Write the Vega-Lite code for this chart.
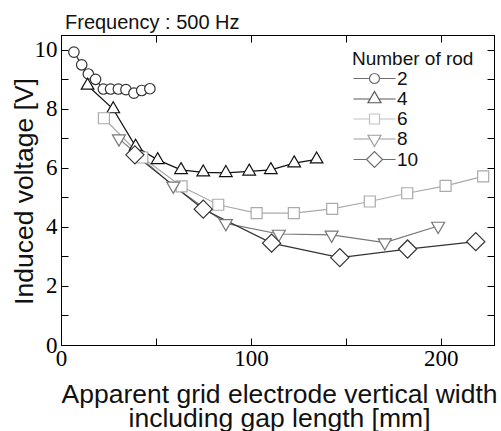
{
  "$schema": "https://vega.github.io/schema/vega-lite/v6.json",
  "width": 433,
  "height": 310,
  "autosize": {"type": "none"},
  "padding": {"left": 61, "top": 35, "right": 7, "bottom": 86},
  "background": "white",
  "title": {"text": "Frequency : 500 Hz", "anchor": "start", "frame": "group", "font": "Liberation Sans", "fontSize": 20, "fontWeight": "normal", "color": "#111", "baseline": "alphabetic", "offset": 8, "dx": 4, "dy": 22},
  "config": {
    "view": {"stroke": "black", "strokeWidth": 1},
    "axis": {"grid": false, "domainColor": "black", "tickColor": "black", "labelColor": "black", "labelFont": "Liberation Serif", "labelFontSize": 23, "titleFont": "Liberation Sans", "titleFontSize": 26.5, "titleFontWeight": "normal", "titleColor": "#111", "tickSize": -7, "labelFlush": false, "labelOverlap": false},
    "legend": {"titleFont": "Liberation Sans", "titleFontSize": 19, "titleFontWeight": "normal", "titleColor": "#111", "labelFont": "Liberation Sans", "labelFontSize": 19, "labelColor": "#111", "symbolSize": 100, "symbolStrokeWidth": 1.2, "padding": 0}
  },
  "data": {"values": [
    {"rods": "2", "width": 6.8, "voltage": 9.92},
    {"rods": "2", "width": 10.9, "voltage": 9.49},
    {"rods": "2", "width": 14.4, "voltage": 9.18},
    {"rods": "2", "width": 18.2, "voltage": 9.0},
    {"rods": "2", "width": 22.3, "voltage": 8.67},
    {"rods": "2", "width": 26.1, "voltage": 8.67},
    {"rods": "2", "width": 30.2, "voltage": 8.67},
    {"rods": "2", "width": 34.2, "voltage": 8.65},
    {"rods": "2", "width": 38.4, "voltage": 8.53},
    {"rods": "2", "width": 42.5, "voltage": 8.62},
    {"rods": "2", "width": 46.8, "voltage": 8.68},
    {"rods": "4", "width": 14.0, "voltage": 8.79},
    {"rods": "4", "width": 27.5, "voltage": 7.99},
    {"rods": "4", "width": 39.3, "voltage": 6.72},
    {"rods": "4", "width": 50.9, "voltage": 6.27},
    {"rods": "4", "width": 63.2, "voltage": 5.93},
    {"rods": "4", "width": 74.9, "voltage": 5.85},
    {"rods": "4", "width": 86.8, "voltage": 5.83},
    {"rods": "4", "width": 99.1, "voltage": 5.88},
    {"rods": "4", "width": 110.5, "voltage": 5.93},
    {"rods": "4", "width": 122.8, "voltage": 6.16},
    {"rods": "4", "width": 134.6, "voltage": 6.29},
    {"rods": "6", "width": 22.6, "voltage": 7.68},
    {"rods": "6", "width": 42.8, "voltage": 6.35},
    {"rods": "6", "width": 63.5, "voltage": 5.37},
    {"rods": "6", "width": 82.8, "voltage": 4.75},
    {"rods": "6", "width": 103.0, "voltage": 4.47},
    {"rods": "6", "width": 122.6, "voltage": 4.47},
    {"rods": "6", "width": 142.8, "voltage": 4.61},
    {"rods": "6", "width": 162.6, "voltage": 4.86},
    {"rods": "6", "width": 182.3, "voltage": 5.14},
    {"rods": "6", "width": 202.5, "voltage": 5.39},
    {"rods": "6", "width": 222.3, "voltage": 5.71},
    {"rods": "8", "width": 30.5, "voltage": 6.99},
    {"rods": "8", "width": 59.1, "voltage": 5.39},
    {"rods": "8", "width": 86.8, "voltage": 4.12},
    {"rods": "8", "width": 114.7, "voltage": 3.76},
    {"rods": "8", "width": 142.5, "voltage": 3.73},
    {"rods": "8", "width": 170.5, "voltage": 3.47},
    {"rods": "8", "width": 198.6, "voltage": 4.03},
    {"rods": "10", "width": 38.9, "voltage": 6.44},
    {"rods": "10", "width": 74.9, "voltage": 4.6},
    {"rods": "10", "width": 110.9, "voltage": 3.45},
    {"rods": "10", "width": 146.8, "voltage": 2.96},
    {"rods": "10", "width": 182.5, "voltage": 3.25},
    {"rods": "10", "width": 218.4, "voltage": 3.5}
  ]},
  "layer": [
    {
      "transform": [{"filter": "datum.rods === 'none'"}],
      "mark": {"type": "point", "filled": true, "fill": "white", "strokeWidth": 1.2},
      "encoding": {
        "x": {"field": "width", "type": "quantitative", "scale": {"domain": [0, 228], "nice": false, "zero": false}, "axis": null},
        "y": {"field": "voltage", "type": "quantitative", "scale": {"domain": [0, 10.5], "nice": false, "zero": false}, "axis": null},
        "shape": {"field": "rods", "type": "nominal", "title": "Number of rod", "scale": {"domain": ["2", "4", "6", "8", "10"], "range": [
          "M-4.2,0H-1M1,0H4.2M-1,0A1,1,0,1,0,1,0A1,1,0,1,0,-1,0Z",
          "M-4.2,0H-0.87M0.87,0H4.2M0,-1.5L1.3,0.75L-1.3,0.75Z",
          "M-4.2,0H-1M1,0H4.2M-1,-1H1V1H-1Z",
          "M-4.2,0H-0.87M0.87,0H4.2M0,1.5L1.3,-0.75L-1.3,-0.75Z",
          "M-4.2,0H-1.6M1.6,0H4.2M-1.6,0L0,-1.6L1.6,0L0,1.6Z"
        ]}, "legend": {"orient": "none", "legendX": 291, "legendY": 15, "symbolOffset": 13, "labelOffset": 13, "rowPadding": -0.5, "titlePadding": 0}},
        "stroke": {"field": "rods", "type": "nominal", "title": "Number of rod", "scale": {"domain": ["2", "4", "6", "8", "10"], "range": ["#333333", "#111111", "#aaaaaa", "#777777", "#333333"]}, "legend": {"orient": "none", "legendX": 291, "legendY": 15, "symbolOffset": 13, "labelOffset": 13, "rowPadding": -0.5, "titlePadding": 0}}
      }
    },
    {
      "mark": {"type": "line", "strokeWidth": 1.2},
      "encoding": {
        "x": {"field": "width", "type": "quantitative", "axis": {"orient": "bottom", "values": [0, 50, 100, 150, 200], "labelExpr": "datum.value % 100 === 0 ? datum.label : ''", "tickSize": -7, "labelPadding": 9, "title": ["Apparent grid electrode vertical width", "including gap length [mm]"], "titleBaseline": "alphabetic", "titleY": 57, "titleX": 218, "titleLineHeight": 24}},
        "y": {"field": "voltage", "type": "quantitative", "axis": {"orient": "left", "values": [0, 1, 2, 3, 4, 5, 6, 7, 8, 9, 10], "labelExpr": "datum.value % 2 === 0 ? datum.label : ''", "tickSize": -7, "labelPadding": 11, "title": "Induced voltage [V]", "titleAngle": -90, "titleBaseline": "alphabetic", "titleX": -29, "titleY": 156}},
        "stroke": {"field": "rods", "type": "nominal", "legend": null}
      }
    },
    {
      "transform": [{"filter": "datum.rods === '2'"}],
      "mark": {"type": "point", "shape": "circle", "size": 110, "filled": true, "fill": "white", "strokeWidth": 1.2, "opacity": 1},
      "encoding": {
        "x": {"field": "width", "type": "quantitative", "axis": {"orient": "top", "values": [0, 50, 100, 150, 200], "labels": false, "tickSize": -7, "title": null}},
        "y": {"field": "voltage", "type": "quantitative", "axis": {"orient": "right", "values": [0, 1, 2, 3, 4, 5, 6, 7, 8, 9, 10], "labels": false, "tickSize": -7, "title": null}},
        "stroke": {"field": "rods", "type": "nominal", "legend": null}
      }
    },
    {
      "transform": [{"filter": "datum.rods === '4'"}],
      "mark": {"type": "point", "shape": "M0,-1.155L1,0.577L-1,0.577Z", "size": 160, "filled": true, "fill": "white", "strokeWidth": 1.2, "opacity": 1},
      "encoding": {
        "x": {"field": "width", "type": "quantitative", "axis": null},
        "y": {"field": "voltage", "type": "quantitative", "axis": null},
        "stroke": {"field": "rods", "type": "nominal", "legend": null}
      }
    },
    {
      "transform": [{"filter": "datum.rods === '6'"}],
      "mark": {"type": "point", "shape": "square", "size": 121, "filled": true, "fill": "white", "strokeWidth": 1.2, "opacity": 1},
      "encoding": {
        "x": {"field": "width", "type": "quantitative", "axis": null},
        "y": {"field": "voltage", "type": "quantitative", "axis": null},
        "stroke": {"field": "rods", "type": "nominal", "legend": null}
      }
    },
    {
      "transform": [{"filter": "datum.rods === '8'"}],
      "mark": {"type": "point", "shape": "M0,1.155L1,-0.577L-1,-0.577Z", "size": 169, "filled": true, "fill": "white", "strokeWidth": 1.2, "opacity": 1},
      "encoding": {
        "x": {"field": "width", "type": "quantitative", "axis": null},
        "y": {"field": "voltage", "type": "quantitative", "axis": null},
        "stroke": {"field": "rods", "type": "nominal", "legend": null}
      }
    },
    {
      "transform": [{"filter": "datum.rods === '10'"}],
      "mark": {"type": "point", "shape": "diamond", "size": 330, "filled": true, "fill": "white", "strokeWidth": 1.2, "opacity": 1},
      "encoding": {
        "x": {"field": "width", "type": "quantitative", "axis": null},
        "y": {"field": "voltage", "type": "quantitative", "axis": null},
        "stroke": {"field": "rods", "type": "nominal", "legend": null}
      }
    }
  ]
}
